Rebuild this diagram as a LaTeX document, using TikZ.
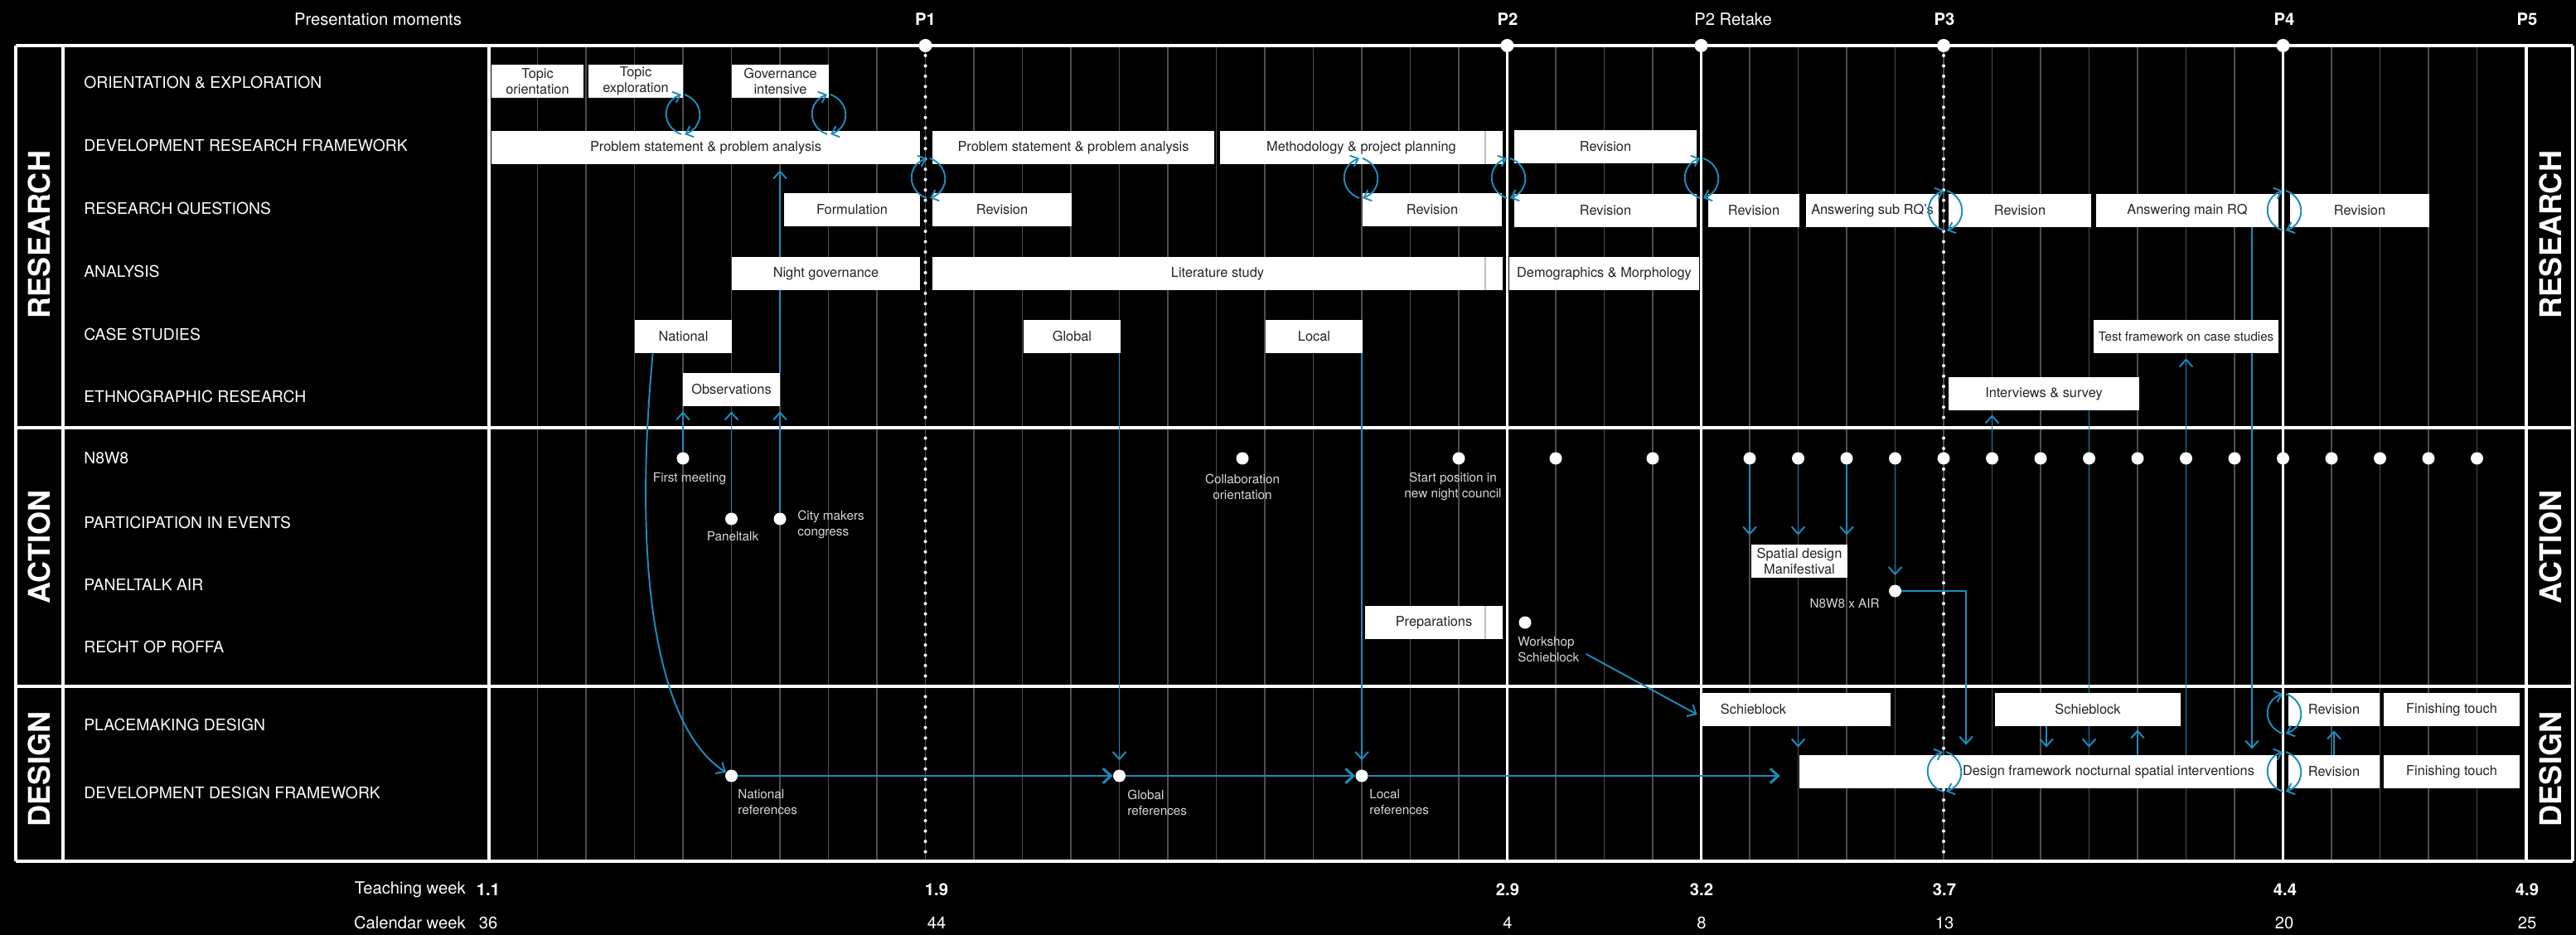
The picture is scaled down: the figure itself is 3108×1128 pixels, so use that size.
\documentclass[tikz,border=0pt]{standalone}
\usepackage{fontspec}
\setmainfont{TeX Gyre Heros}
\usetikzlibrary{arrows.meta,calc}
\definecolor{bl}{RGB}{28,140,190}
\definecolor{gridc}{RGB}{78,78,78}
\definecolor{boxtxt}{RGB}{35,35,35}
\definecolor{lbltxt}{RGB}{215,215,215}
\pgfdeclarelayer{bg}\pgfdeclarelayer{mid}\pgfsetlayers{bg,mid,main}
\newcommand{\gbox}[6]{\node[gbox, minimum width={(#4-#2)*0.02cm}, minimum height={(#5-#3)*0.02cm}] (#1) at ({(#2+#4)/2},{(#3+#5)/2}) {#6};}
\tikzset{
  gbox/.style={fill=white, draw=none, inner sep=0pt, text=boxtxt, font=\fontsize{9.3}{10.8}\selectfont, align=center},
  rowlbl/.style={anchor=west, text=white, font=\fontsize{11}{13}\selectfont, inner sep=0pt},
  sect/.style={rotate=90, text=white, font=\fontsize{20.5}{24}\selectfont\bfseries, inner sep=0pt},
  small/.style={text=lbltxt, font=\fontsize{8.7}{10.8}\selectfont, inner sep=0pt, align=center},
  hdr/.style={text=white, font=\fontsize{11.5}{14}\selectfont, inner sep=0pt},
  hdrb/.style={text=white, font=\fontsize{11.5}{14}\selectfont\bfseries, inner sep=0pt},
  dot/.style={circle, fill=white, inner sep=0pt, minimum size=0.3cm},
  pdot/.style={circle, fill=white, inner sep=0pt, minimum size=0.32cm},
  arr/.style={draw=bl, line width=1.1pt, -{Straight Barb[length=5pt,width=9pt]}},
  arrk/.style={draw=bl, line width=1.7pt, -{Straight Barb[length=5.5pt,width=10pt]}},
  bline/.style={draw=bl, line width=1.1pt},
  cycarr/.style={draw=bl, line width=1.1pt, -{Straight Barb[length=4.5pt,width=8pt]}},
  wline/.style={white, line width=2pt},
  hsep/.style={white, line width=2.3pt},
  gridl/.style={gridc, line width=0.7pt},
  dotl/.style={white, line width=2.3pt, line cap=round, dash pattern=on 0pt off 7.1pt},
  boxsep/.style={black!25, line width=0.8pt},
  cyc/.pic={
    \draw[cycarr] (-2,24) .. controls (-26,15) and (-26,-15) .. (-2,-24);
    \draw[cycarr] (2,-24) .. controls (26,-15) and (26,15) .. (2,24);
  }
}
\begin{document}
\begin{tikzpicture}[x=0.02cm,y=-0.02cm]
\useasboundingbox (0,0) rectangle (3108,1128);

\begin{pgfonlayer}{bg}
\fill[black] (0,0) rectangle (3108,1128);
\foreach \k in {1,...,41} \draw[gridl] ({590+58.5*\k},57) -- ({590+58.5*\k},1037);
\foreach \xx in {19,76,590,1818.5,2052.5,2754.5,3104} \draw[wline] (\xx,55) -- (\xx,1039);
\draw[white, line width=2.8pt] (3048,55) -- (3048,1039);
\foreach \yy in {516,828,1039} \draw[hsep] (19,\yy) -- (3104,\yy);
\draw[white, line width=2.5pt] (19,55) -- (3104,55);
\draw[dotl] (1116.5,67) -- (1116.5,1030);
\draw[dotl] (2345,67) -- (2345,1030);
\end{pgfonlayer}

% header
\node[hdr] (hpm) at (456,23) {Presentation moments};
\node[hdrb] (hp1) at (1116.5,23) {P1};
\node[hdrb] (hp2) at (1819,23) {P2};
\node[hdr, anchor=west] (hp2r) at (2044,23) {P2 Retake};
\node[hdrb] (hp3) at (2346,23) {P3};
\node[hdrb] (hp4) at (2756,23) {P4};
\node[hdrb] (hp5) at (3049,23) {P5};
\node[pdot] (p1) at (1116.5,55) {};
\node[pdot] (p2) at (1818.5,55) {};
\node[pdot] (p2r) at (2052.5,55) {};
\node[pdot] (p3) at (2345,55) {};
\node[pdot] (p4) at (2754.5,55) {};

% section labels
\node[sect] (sr) at (47.5,283) {RESEARCH};
\node[sect] (sa) at (47.5,660) {ACTION};
\node[sect] (sd) at (47.5,928) {DESIGN};
\node[sect] (sr2) at (3077,283) {RESEARCH};
\node[sect] (sa2) at (3077,660) {ACTION};
\node[sect] (sd2) at (3077,928) {DESIGN};

% row labels
\node[rowlbl] (l1) at (101,100) {ORIENTATION \& EXPLORATION};
\node[rowlbl] (l2) at (101,175) {DEVELOPMENT RESEARCH FRAMEWORK};
\node[rowlbl] (l3) at (101,252) {RESEARCH QUESTIONS};
\node[rowlbl] (l4) at (101,327) {ANALYSIS};
\node[rowlbl] (l5) at (101,403) {CASE STUDIES};
\node[rowlbl] (l6) at (101,478) {ETHNOGRAPHIC RESEARCH};
\node[rowlbl] (l7) at (101,553) {N8W8};
\node[rowlbl] (l8) at (101,630) {PARTICIPATION IN EVENTS};
\node[rowlbl] (l9) at (101,705) {PANELTALK AIR};
\node[rowlbl] (l10) at (101,780) {RECHT OP ROFFA};
\node[rowlbl] (l11) at (101,874) {PLACEMAKING DESIGN};
\node[rowlbl] (l12) at (101,956) {DEVELOPMENT DESIGN FRAMEWORK};

% bottom scale
\node[hdr, anchor=east] (tw) at (562,1073) {Teaching week};
\node[hdr, anchor=east] (cw) at (562,1113) {Calendar week};
\node[hdrb] (t0) at (589,1073) {1.1};
\node[hdrb] (t1) at (1130,1073) {1.9};
\node[hdrb] (t2) at (1819,1073) {2.9};
\node[hdrb] (t3) at (2053,1073) {3.2};
\node[hdrb] (t4) at (2346,1073) {3.7};
\node[hdrb] (t5) at (2757,1073) {4.4};
\node[hdrb] (t6) at (3049,1073) {4.9};
\node[hdr] (c0) at (589,1113) {36};
\node[hdr] (c1) at (1130,1113) {44};
\node[hdr] (c2) at (1819,1113) {4};
\node[hdr] (c3) at (2053,1113) {8};
\node[hdr] (c4) at (2346,1113) {13};
\node[hdr] (c5) at (2756,1113) {20};
\node[hdr] (c6) at (3049,1113) {25};

% boxes
\gbox{topicor}{593}{78}{704}{118}{Topic\\orientation}
\gbox{topicex}{710}{78}{824}{118}{Topic\\exploration}
\gbox{govint}{883}{78}{1000}{118}{Governance\\intensive}
\gbox{psa}{593}{158}{1110}{198}{Problem statement \& problem analysis}
\gbox{psb}{1125}{158}{1465}{198}{Problem statement \& problem analysis}
\gbox{meth}{1472}{158}{1813}{198}{Methodology \& project planning}
\gbox{reva}{1827}{157}{2047}{197}{Revision}
\gbox{form}{946}{233}{1110}{273}{Formulation}
\gbox{revb}{1125}{233}{1293}{273}{Revision}
\gbox{revc}{1644}{233}{1812}{273}{Revision}
\gbox{revd}{1827}{234}{2047}{274}{Revision}
\gbox{reve}{2061}{234}{2171}{274}{Revision}
\gbox{ansub}{2179}{234}{2339}{274}{Answering sub RQ's}
\gbox{revf}{2351}{234}{2523}{274}{Revision}
\gbox{anmain}{2529}{234}{2749}{274}{Answering main RQ}
\gbox{revg}{2763}{234}{2931}{274}{Revision}
\gbox{nightgov}{883}{310}{1110}{350}{Night governance}
\gbox{lit}{1125}{310}{1813}{350}{Literature study}
\gbox{demo}{1821}{310}{2050}{350}{Demographics \& Morphology}
\gbox{csnat}{766}{386}{883}{426}{National}
\gbox{csglob}{1235}{386}{1352}{426}{Global}
\gbox{csloc}{1527}{386}{1644}{426}{Local}
\gbox{testfw}{2526}{386}{2749}{426}{\fontsize{8.6}{10}\selectfont Test framework on case studies}
\gbox{obs}{824}{450}{941}{490}{Observations}
\gbox{interv}{2351}{455}{2581}{495}{Interviews \& survey}
\gbox{manif}{2113}{657}{2229}{697}{Spatial design\\Manifestival}
\gbox{prep}{1647}{731}{1813}{771}{Preparations}
\gbox{schiea}{2054}{836}{2281}{876}{Schieblock\hspace*{2.08cm}}
\gbox{schieb}{2407}{836}{2631}{876}{Schieblock}
\gbox{revp}{2761}{836}{2871}{876}{Revision}
\gbox{finp}{2876}{836}{3040}{876}{Finishing touch}
\gbox{dfw}{2171}{911}{2747}{951}{\hspace*{3.4cm}Design framework nocturnal spatial interventions}
\gbox{revq}{2761}{911}{2871}{951}{Revision}
\gbox{finq}{2876}{911}{3040}{951}{Finishing touch}
\draw[boxsep] (1792,158) -- (1792,198);
\draw[boxsep] (1792,310) -- (1792,350);
\draw[boxsep] (1792,731) -- (1792,771);

% dots
\node[dot] (n4) at (824,553) {};
\node[dot] (n15) at (1499,553) {};
\node[dot] (n20) at (1760,553) {};
\node[dot] (n22) at (1877,553) {};
\node[dot] (n24) at (1994,553) {};
\foreach \k in {26,...,41} \node[dot] (n\k) at ({590+58.5*\k},553) {};
\node[dot] (e5) at (882.5,626) {};
\node[dot] (e6) at (941,626) {};
\node[dot] (air) at (2286.5,713) {};
\node[dot] (ws) at (1840,751) {};
\node[dot] (r5) at (882.5,936) {};
\node[dot] (r13) at (1350.5,936) {};
\node[dot] (r18) at (1643,936) {};

% small labels
\node[small] (lfm) at (832,578) {First meeting};
\node[small] (lpt) at (884,647) {Paneltalk};
\node[small, anchor=west, align=left] (lcm) at (962,633) {City makers\\congress};
\node[small] (lco) at (1499,587) {Collaboration\\orientation};
\node[small] (lsp) at (1753,587) {Start position in\\new night council};
\node[small, anchor=east] (lair) at (2268,728) {N8W8 x AIR};
\node[small, anchor=west, align=left] (lws) at (1831,784) {Workshop\\Schieblock};
\node[small, anchor=west, align=left] (lnr) at (890,968) {National\\references};
\node[small, anchor=west, align=left] (lgr) at (1360,968) {Global\\references};
\node[small, anchor=west, align=left] (llr) at (1652,968) {Local\\references};

\coordinate (airx) at (2372,713);
\coordinate (sbx) at (2469,0);
\coordinate (amx) at (2717,0);

\begin{pgfonlayer}{mid}
\draw[arr] (n4) -- ($(obs.south -| n4)+(0,6)$);
\draw[arr] (e5) -- ($(obs.south -| e5)+(0,6)$);
\draw[arr] (e6) -- ($(obs.south -| e6)+(0,6)$);
\draw[arr] (obs.north -| e6) -- ($(psa.south -| e6)+(0,7)$);
\draw[arr] ($(csnat.south west)+(22,0)$) .. controls (762,700) and (795,880) .. (r5);
\draw[arr] (csglob.south -| r13) -- ($(r13.north)+(0,-11)$);
\draw[arr] (csloc.south -| r18) -- ($(r18.north)+(0,-11)$);
\draw[arrk] (r5) -- (r13);
\draw[arrk] (r13) -- (r18);
\draw[arrk] (r18) -- ($(dfw.west |- r18)+(-23,0)$);
\draw[arr] (n26) -- ($(manif.north -| n26)+(0,-11)$);
\draw[arr] (n27) -- ($(manif.north -| n27)+(0,-11)$);
\draw[arr] (n28) -- ($(manif.north -| n28)+(0,-11)$);
\draw[arr] (n29) -- ($(air.north)+(0,-11)$);
\draw[arr] (air) -| ($(dfw.north -| airx)+(0,-12)$);
\draw[arr] (n31) -- ($(interv.south -| n31)+(0,5)$);
\draw[bline] (interv.south -| n33) -- (schieb.north -| n33);
\draw[arr] (schieb.south -| sbx) -- ($(dfw.north -| sbx)+(0,-9)$);
\draw[arr] (schieb.south -| n33) -- ($(dfw.north -| n33)+(0,-9)$);
\draw[arr] (dfw.north -| n34) -- ($(schieb.south -| n34)+(0,4)$);
\draw[arr] (dfw.north -| n35) -- ($(testfw.south -| n35)+(0,6)$);
\draw[arr] (anmain.south -| amx) -- ($(dfw.north -| amx)+(0,-7)$);
\draw[arr] (schiea.south -| n27) -- ($(dfw.north -| n27)+(0,-9)$);
\draw[arr] (revq.north) -- ($(revp.south)+(0,5)$);
\draw[arr] ($(lws.east)+(8,5)$) -- ($(schiea.west)+(-6,6)$);
\end{pgfonlayer}

% cycles
\pic (cy1) at (824,138) {cyc};
\pic (cy2) at (1000,138) {cyc};
\pic (cy3) at (1120,215) {cyc};
\pic (cy4) at (1642,215) {cyc};
\pic (cy5) at (1820,215) {cyc};
\pic (cy6) at (2053,215) {cyc};
\pic (cy7) at (2347,254) {cyc};
\pic (cy8) at (2756,254) {cyc};
\pic (cy9) at (2756,861) {cyc};
\pic (cy10) at (2756,931) {cyc};
\pic (cy11) at (2346,931) {cyc};
\end{tikzpicture}
\end{document}
